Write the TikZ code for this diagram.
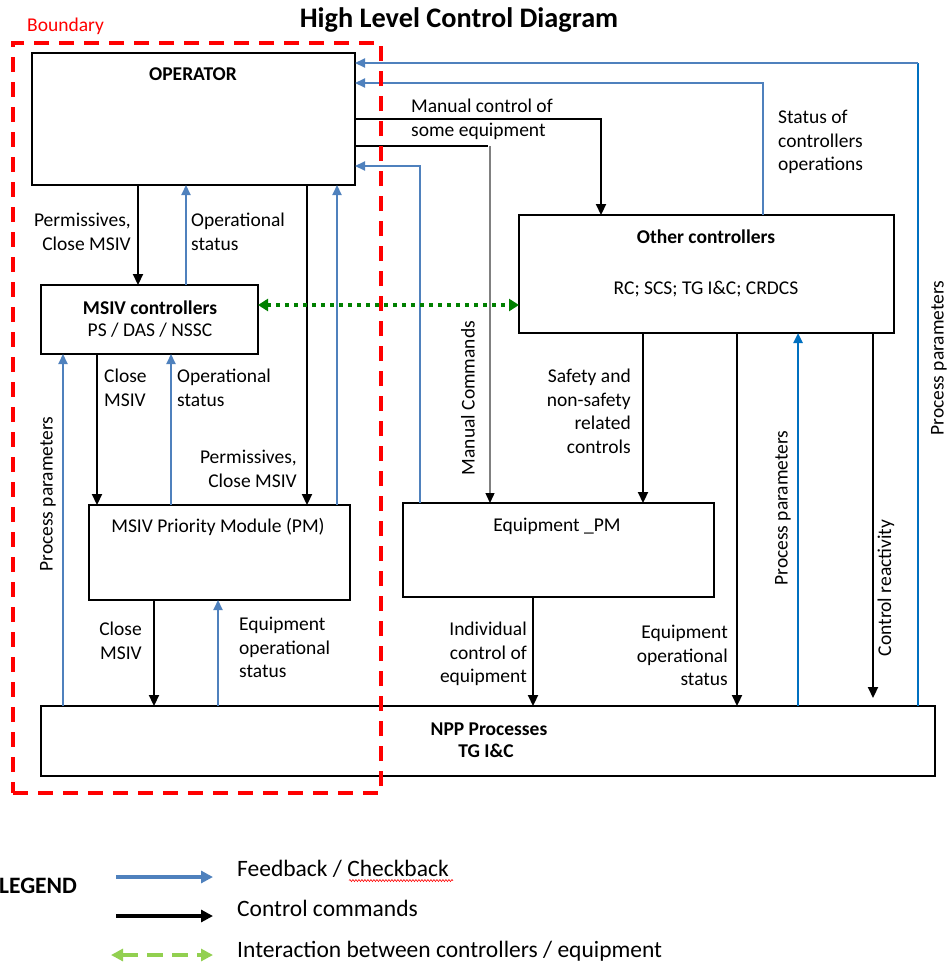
\documentclass[tikz,border=0pt]{standalone}
\usepackage{fontspec}
\setmainfont{Carlito}
\usetikzlibrary{arrows.meta,decorations.pathmorphing}
\definecolor{fbblue}{RGB}{79,129,189}
\definecolor{ppblue}{RGB}{0,112,192}
\definecolor{dgreen}{RGB}{0,128,0}
\definecolor{lgreen}{RGB}{146,208,80}
\begin{document}
\begin{tikzpicture}[x=1pt,y=-1pt,
  box/.style={draw=black, line width=2.8pt, inner sep=0pt, outer sep=0pt, anchor=north west},
  ctrl/.style={draw=black, line width=2.2pt, -{Triangle[length=11pt,width=10pt]}},
  fb/.style={draw=fbblue, line width=2.2pt, -{Triangle[length=10pt,width=9pt]}},
  fbpp/.style={draw=ppblue, line width=2.4pt, -{Triangle[length=10pt,width=9pt]}},
  manual/.style={draw=gray, line width=1.4pt, -{Triangle[length=10pt,width=9pt,color=black]}},
  inter/.style={draw=dgreen, line width=4pt, dash pattern=on 4pt off 5pt, {Triangle[length=10pt,width=12pt]}-{Triangle[length=10pt,width=12pt]}},
  lbl/.style={font=\fontsize{19.5}{23.5}\selectfont, inner sep=0pt},
  btxt/.style={font=\fontsize{19.5}{23.5}\selectfont, inner sep=0pt, anchor=base},
  bbtxt/.style={font=\fontsize{19.5}{23.5}\selectfont\bfseries, inner sep=0pt, anchor=base},
  legtxt/.style={font=\fontsize{23.5}{27}\selectfont, inner sep=0pt, anchor=base west},
  boundary/.style={draw=red, line width=4pt, dash pattern=on 15pt off 10pt, inner sep=0pt, outer sep=0pt, anchor=north west}
]
\useasboundingbox (0,0) rectangle (947,964);

% title and boundary label
\node[font=\fontsize{28.3}{32}\selectfont\bfseries, inner sep=0pt, anchor=base] (title) at (459,27) {High Level Control Diagram};
\node[font=\fontsize{19.5}{23}\selectfont, text=red, inner sep=0pt, anchor=base west] (bndT) at (27,31) {Boundary};

% boxes
\node[box, minimum width=323pt, minimum height=132pt] (op) at (32,53) {};
\node[box, minimum width=217pt, minimum height=69pt] (msiv) at (41,285) {};
\node[box, minimum width=261pt, minimum height=95pt] (pm) at (89,505) {};
\node[box, minimum width=375pt, minimum height=118pt] (oc) at (519,215) {};
\node[box, minimum width=311pt, minimum height=94pt] (eq) at (403,503) {};
\node[box, minimum width=894pt, minimum height=70pt] (npp) at (41,706) {};

% box texts
\node[bbtxt] (opT) at (193,80.5) {OPERATOR};
\node[bbtxt] (msivT) at (150,314) {MSIV controllers};
\node[btxt] (msivS) at (150,336.5) {PS / DAS / NSSC};
\node[btxt] (pmT) at (218,532.5) {MSIV Priority Module (PM)};
\node[bbtxt] (ocT) at (706,243.5) {Other controllers};
\node[btxt] (ocS) at (706,294.5) {RC; SCS; TG I\&C; CRDCS};
\node[btxt] (eqT) at (557,531.5) {Equipment \_PM};
\node[bbtxt] (nppT) at (489,735) {NPP Processes};
\node[bbtxt] (nppS) at (486,757.5) {TG I\&C};

% connectors in the boundary
\draw[ctrl] ([xshift=106pt]op.south west) -- ([xshift=97pt]msiv.north west);
\draw[fb] ([xshift=145pt]msiv.north west) -- ([xshift=154pt]op.south west);
\draw[ctrl] ([xshift=275pt]op.south west) -- ([xshift=218pt]pm.north west);
\draw[fb] ([xshift=248pt]pm.north west) -- ([xshift=305pt]op.south west);
\draw[ctrl] ([xshift=56pt]msiv.south west) -- ([xshift=8pt]pm.north west);
\draw[fb] ([xshift=82pt]pm.north west) -- ([xshift=130pt]msiv.south west);
\draw[fb] ([xshift=22pt]npp.north west) -- ([xshift=22pt]msiv.south west);
\draw[ctrl] ([xshift=65pt]pm.south west) -- ([xshift=113pt]npp.north west);
\draw[fb] ([xshift=177pt]npp.north west) -- ([xshift=129pt]pm.south west);

% operator outputs / inputs on the right
\draw[ctrl] ([yshift=-66pt]op.north east) -| ([xshift=82pt]oc.north west);
\coordinate (mc) at (490,146);
\draw[draw=black, line width=2.2pt] ([yshift=-93pt]op.north east) -- ([xshift=-2pt]mc);
\draw[manual] (mc) -- (mc |- eq.north);
\draw[fb] ([xshift=17pt]eq.north west) |- ([yshift=-113pt]op.north east);
\draw[fb] ([xshift=244pt]oc.north west) |- ([yshift=-30pt]op.north east);
\coordinate (pc) at (918,63);
\draw[draw=ppblue, line width=2.4pt] ([xshift=877pt]npp.north west) -- (pc);
\draw[fb] (pc) -- ([yshift=-10pt]op.north east);

% interaction
\draw[inter] ([yshift=14.5pt]msiv.east) -- ([yshift=-31pt]oc.west);

% other controllers
\draw[ctrl] ([xshift=124pt]oc.south west) -- ([xshift=240pt]eq.north west);
\draw[ctrl] ([xshift=218pt]oc.south west) -- ([xshift=696pt]npp.north west);
\draw[fbpp] ([xshift=757pt]npp.north west) -- ([xshift=279pt]oc.south west);
\draw[ctrl] ([xshift=354pt]oc.south west) -- ([xshift=832pt,yshift=8pt]npp.north west);
\draw[ctrl] ([xshift=130pt]eq.south west) -- ([xshift=492pt]npp.north west);

% labels
\node[lbl, anchor=north east, align=right] (l1) at (131,213) {Permissives,\\Close MSIV};
\node[lbl, anchor=north west, align=left] (l2) at (191,213) {Operational\\status};
\node[lbl, anchor=north west, align=left] (l5) at (104,369) {Close\\MSIV};
\node[lbl, anchor=north west, align=left] (l6) at (177,369) {Operational\\status};
\node[lbl, anchor=north east, align=right] (l3) at (297,450) {Permissives,\\Close MSIV};
\node[lbl, anchor=north east, align=right] (l8) at (142,622) {Close\\MSIV};
\node[lbl, anchor=north west, align=left] (l9) at (239,617) {Equipment\\operational\\status};
\node[lbl, anchor=north west, align=left] (l10) at (411,99) {Manual control of\\some equipment};
\node[lbl, anchor=north west, align=left] (l13) at (778,110) {Status of\\controllers\\operations};
\node[lbl, anchor=north east, align=right] (l16) at (631,369) {Safety and\\non-safety\\related\\controls};
\node[lbl, anchor=north east, align=right] (l20) at (527,622) {Individual\\control of\\equipment};
\node[lbl, anchor=north east, align=right] (l17) at (728,625) {Equipment\\operational\\status};
\node[lbl, rotate=90] (l7) at (48,494) {Process parameters};
\node[lbl, rotate=90] (l11) at (468,398) {Manual Commands};
\node[lbl, rotate=90] (l14) at (939,358) {Process parameters};
\node[lbl, rotate=90] (l18) at (783,508) {Process parameters};
\node[lbl, rotate=90] (l19) at (886,588) {Control reactivity};

% boundary
\node[boundary, minimum width=368pt, minimum height=750pt] (bnd) at (13,43) {};

% legend
\node[font=\fontsize{23.5}{27}\selectfont\bfseries, inner sep=0pt, anchor=base west] (legT) at (-1,893.5) {LEGEND};
\coordinate (lb1) at (116,877); \coordinate (lb2) at (213,877);
\coordinate (lk1) at (116,916); \coordinate (lk2) at (213,916);
\coordinate (lg1) at (111,955); \coordinate (lg2) at (213,955);
\draw[draw=fbblue, line width=3.5pt, -{Triangle[length=12pt,width=12pt]}] (lb1) -- (lb2);
\draw[draw=black, line width=3.5pt, -{Triangle[length=12pt,width=12pt]}] (lk1) -- (lk2);
\draw[draw=lgreen, line width=4pt, dash pattern=on 16pt off 9pt, {Triangle[length=12pt,width=12pt]}-{Triangle[length=12pt,width=12pt]}] (lg1) -- (lg2);
\node[legtxt] (leg1) at (237,876.5) {Feedback / Checkback};
\node[legtxt] (leg2) at (237,916.5) {Control commands};
\node[legtxt] (leg3) at (237,957.5) {Interaction between controllers / equipment};
\coordinate (w1) at (349,880.5); \coordinate (w2) at (453,880.5);
\draw[red, line width=0.6pt, decorate, decoration={snake, amplitude=1pt, segment length=3pt}] (w1) -- (w2);
\end{tikzpicture}
\end{document}
